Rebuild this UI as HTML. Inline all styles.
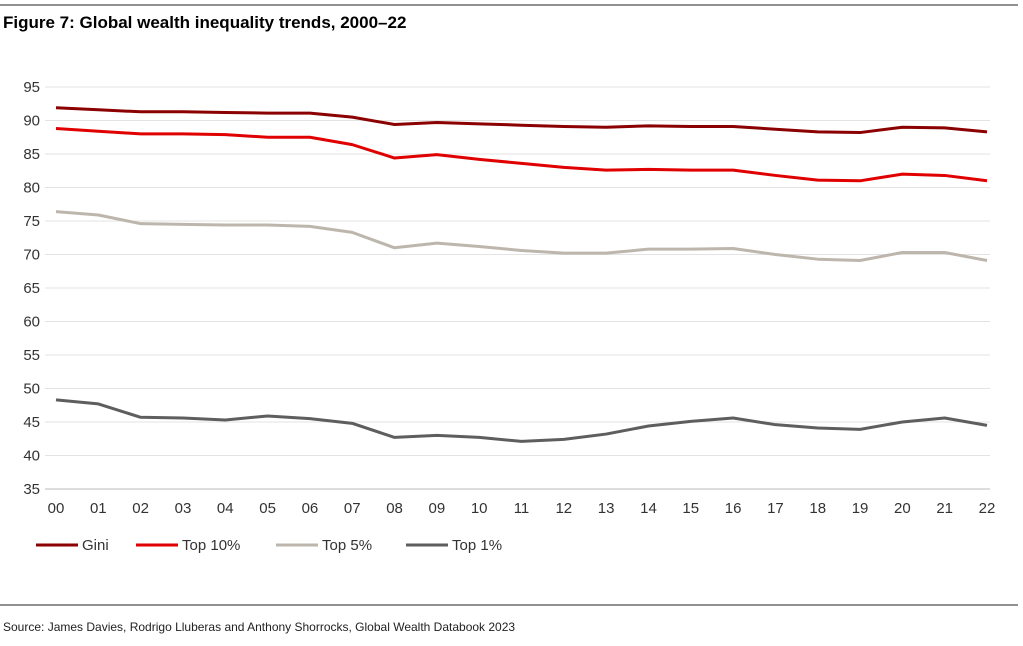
<!DOCTYPE html>
<html><head><meta charset="utf-8"><style>
body{margin:0;background:#fff;font-family:"Liberation Sans",sans-serif;}
svg{display:block}
</style></head><body>
<svg id="c" width="1023" height="646">
<line x1="0" y1="5" x2="1018" y2="5" stroke="#222" stroke-width="1"/>
<text x="3" y="28" font-size="17" font-weight="bold" fill="#000">Figure 7: Global wealth inequality trends, 2000–22</text>
<line x1="0" y1="605" x2="1018" y2="605" stroke="#222" stroke-width="1"/>
<text x="3" y="631" font-size="12" fill="#222">Source: James Davies, Rodrigo Lluberas and Anthony Shorrocks, Global Wealth Databook 2023</text>
<g id="grid"></g><g id="series"></g><g id="legend"></g>
</svg>
<script>
const years=["00","01","02","03","04","05","06","07","08","09","10","11","12","13","14","15","16","17","18","19","20","21","22"];
const yTicks=[35,40,45,50,55,60,65,70,75,80,85,90,95];
const gini=[91.9,91.6,91.3,91.3,91.2,91.1,91.1,90.5,89.4,89.7,89.5,89.3,89.1,89.0,89.2,89.1,89.1,88.7,88.3,88.2,89.0,88.9,88.3];
const top10=[88.8,88.4,88.0,88.0,87.9,87.5,87.5,86.4,84.4,84.9,84.2,83.6,83.0,82.6,82.7,82.6,82.6,81.8,81.1,81.0,82.0,81.8,81.0];
const top5=[76.4,75.9,74.6,74.5,74.4,74.4,74.2,73.3,71.0,71.7,71.2,70.6,70.2,70.2,70.8,70.8,70.9,70.0,69.3,69.1,70.3,70.3,69.1];
const top1=[48.3,47.7,45.7,45.6,45.3,45.9,45.5,44.8,42.7,43.0,42.7,42.1,42.4,43.2,44.4,45.1,45.6,44.6,44.1,43.9,45.0,45.6,44.5];
const seriesNames=["Gini","Top 10%","Top 5%","Top 1%"];
const NS="http://www.w3.org/2000/svg";
const x0=56,x1=987,yB=489,yT=87;
const xs=i=>x0+(x1-x0)*i/(years.length-1);
const ys=v=>yB-(v-35)/(95-35)*(yB-yT);
function mk(t,a,p){const e=document.createElementNS(NS,t);for(const k in a)e.setAttribute(k,a[k]);p.appendChild(e);return e;}
const grid=document.getElementById('grid');
yTicks.forEach(v=>{
 const l=mk('line',{x1:45,x2:990,y1:ys(v),y2:ys(v),stroke:v===35?'#bbb':'#e3e3e3','stroke-width':1},grid);
 
 
 const t=mk('text',{x:40,y:ys(v)+5,'text-anchor':'end','font-size':15,fill:'#333'},grid);t.textContent=v;
 
 
});
years.forEach((y,i)=>{
 const t=mk('text',{x:xs(i),y:513,'text-anchor':'middle','font-size':15,fill:'#333'},grid);t.textContent=y;
 
 
});
const data=[gini,top10,top5,top1];
const colors=["#8b0000","#e00000","#bdb6ad","#5e5e5e"];
const sg=document.getElementById('series');
data.forEach((d,k)=>{
 const p=mk('polyline',{points:d.map((v,i)=>xs(i)+','+ys(v)).join(' '),fill:'none',stroke:colors[k],'stroke-width':3,'stroke-linejoin':'round'},sg);
 
 
});
const lg=document.getElementById('legend');
const lx=[36,136,276,406];
seriesNames.forEach((n,k)=>{
 const g=mk('g',{},lg);
 
 
 mk('line',{x1:lx[k],x2:lx[k]+42,y1:545,y2:545,stroke:colors[k],'stroke-width':3},g);
 const t=mk('text',{x:lx[k]+46,y:550,'font-size':15,fill:'#333'},g);t.textContent=n;
});
</script>
</body></html>
